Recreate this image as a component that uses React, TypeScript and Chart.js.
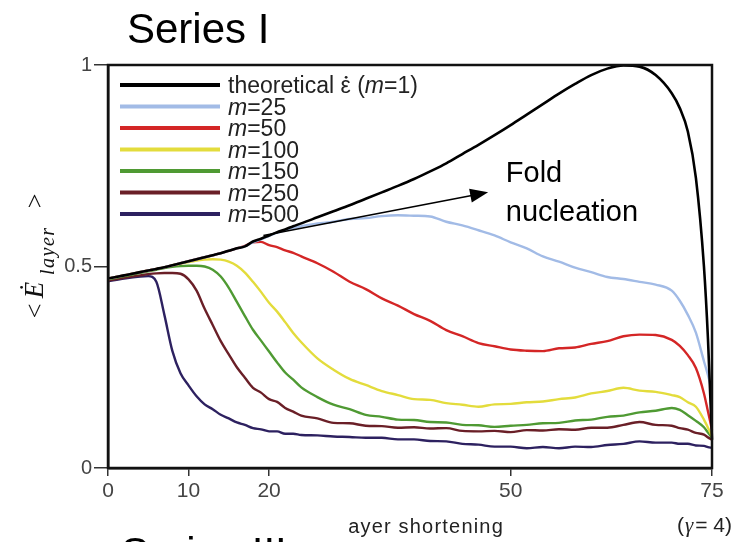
import React, { useEffect, useRef } from "react";
import { Chart, registerables } from "chart.js";

Chart.register(...registerables);

// Layer shortening (%) sample positions shared by all series
const X_VALUES = [0, 2, 4, 5, 6, 7, 8, 9, 10, 11, 12, 13, 14, 15, 16, 17, 18, 19, 20, 21, 22, 23, 24, 26, 28, 30, 32, 34, 36, 38, 40, 42, 44, 46, 48, 50, 52, 54, 56, 58, 60, 62, 64, 66, 68, 70, 71, 72, 73, 74, 74.5, 75];

const THEORETICAL = [0.470, 0.478, 0.486, 0.490, 0.494, 0.498, 0.503, 0.508, 0.513, 0.518, 0.523, 0.528, 0.533, 0.539, 0.545, 0.550, 0.562, 0.569, 0.577, 0.585, 0.592, 0.600, 0.607, 0.622, 0.637, 0.652, 0.668, 0.684, 0.700, 0.717, 0.736, 0.756, 0.779, 0.802, 0.826, 0.851, 0.877, 0.903, 0.929, 0.953, 0.975, 0.991, 0.999, 0.996, 0.975, 0.930, 0.893, 0.835, 0.720, 0.500, 0.320, 0.070];
const M25 = [0.470, 0.478, 0.486, 0.490, 0.494, 0.498, 0.503, 0.508, 0.513, 0.518, 0.523, 0.528, 0.533, 0.539, 0.545, 0.550, 0.560, 0.567, 0.576, 0.584, 0.590, 0.596, 0.600, 0.607, 0.611, 0.618, 0.620, 0.625, 0.627, 0.626, 0.624, 0.611, 0.602, 0.590, 0.577, 0.560, 0.545, 0.525, 0.512, 0.497, 0.486, 0.474, 0.469, 0.462, 0.455, 0.440, 0.415, 0.380, 0.336, 0.265, 0.230, 0.190];
const M50 = [0.470, 0.478, 0.486, 0.490, 0.494, 0.498, 0.503, 0.508, 0.513, 0.518, 0.523, 0.528, 0.533, 0.539, 0.545, 0.551, 0.560, 0.561, 0.553, 0.548, 0.540, 0.534, 0.525, 0.508, 0.487, 0.462, 0.444, 0.421, 0.403, 0.382, 0.365, 0.342, 0.327, 0.310, 0.302, 0.294, 0.291, 0.290, 0.297, 0.299, 0.308, 0.315, 0.327, 0.331, 0.330, 0.318, 0.303, 0.280, 0.248, 0.185, 0.140, 0.095];
const M100 = [0.470, 0.478, 0.486, 0.490, 0.494, 0.498, 0.503, 0.507, 0.511, 0.515, 0.517, 0.518, 0.517, 0.512, 0.502, 0.485, 0.462, 0.437, 0.410, 0.388, 0.362, 0.335, 0.312, 0.272, 0.244, 0.221, 0.206, 0.191, 0.181, 0.171, 0.169, 0.161, 0.157, 0.152, 0.158, 0.159, 0.163, 0.165, 0.171, 0.175, 0.185, 0.191, 0.199, 0.192, 0.189, 0.181, 0.176, 0.163, 0.152, 0.120, 0.100, 0.078];
const M150 = [0.468, 0.476, 0.484, 0.488, 0.492, 0.496, 0.499, 0.501, 0.502, 0.502, 0.500, 0.492, 0.475, 0.447, 0.412, 0.377, 0.343, 0.316, 0.289, 0.262, 0.237, 0.219, 0.200, 0.176, 0.157, 0.146, 0.132, 0.127, 0.120, 0.119, 0.114, 0.113, 0.107, 0.106, 0.102, 0.105, 0.107, 0.111, 0.112, 0.118, 0.120, 0.127, 0.130, 0.138, 0.142, 0.149, 0.144, 0.131, 0.117, 0.101, 0.088, 0.075];
const M250 = [0.465, 0.472, 0.478, 0.481, 0.483, 0.484, 0.484, 0.482, 0.468, 0.440, 0.395, 0.355, 0.315, 0.282, 0.250, 0.224, 0.199, 0.187, 0.171, 0.164, 0.149, 0.140, 0.130, 0.123, 0.112, 0.111, 0.105, 0.104, 0.100, 0.101, 0.098, 0.099, 0.092, 0.091, 0.092, 0.089, 0.094, 0.093, 0.096, 0.095, 0.100, 0.100, 0.107, 0.114, 0.107, 0.105, 0.099, 0.095, 0.087, 0.083, 0.076, 0.070];
const M500 = [0.463, 0.470, 0.475, 0.476, 0.462, 0.380, 0.290, 0.235, 0.205, 0.178, 0.158, 0.146, 0.132, 0.123, 0.113, 0.107, 0.099, 0.096, 0.091, 0.091, 0.085, 0.085, 0.082, 0.081, 0.078, 0.077, 0.075, 0.075, 0.071, 0.071, 0.067, 0.066, 0.060, 0.058, 0.053, 0.053, 0.049, 0.052, 0.049, 0.053, 0.052, 0.057, 0.060, 0.066, 0.063, 0.063, 0.060, 0.060, 0.056, 0.055, 0.052, 0.050];

const SERIES = [THEORETICAL, M25, M50, M100, M150, M250, M500];
const LEGEND_LABELS = ["theoretical \u03b5\u0307 (m=1)", "m=25", "m=50", "m=100", "m=150", "m=250", "m=500"];
const COLORS = ["#000000", "#a2bbe6", "#d42626", "#e3dc3c", "#4f9a33", "#6a1f27", "#2d2160"];
const WIDTHS = [2.6, 2.4, 2.4, 2.4, 2.4, 2.4, 2.4];

const X_TICKS = [0, 10, 20, 50, 75];
const Y_TICKS = [0, 0.5, 1];

const TITLE = "Series I";
const SUBTITLE = "Series III";
const X_TITLE = "Layer shortening";
const ANNOT_LINES = ["Fold", "nucleation"];
const ARROW_FROM = { x: 19.3, y: 0.577 };
const ARROW_TO = { x: 47.2, y: 0.684 };
const ANNOT_POS = { x: 49.4, y: 0.709 };

const SANS = "'Liberation Sans', Arial, sans-serif";
const SERIF = "'Liberation Serif', 'Times New Roman', serif";

function drawMixed(ctx: CanvasRenderingContext2D, text: string, x: number, y: number, size: number) {
  const parts = text.split(/(m(?==)|\u03b5\u0307)/);
  let cx = x;
  for (const p of parts) {
    if (!p) continue;
    if (p === "\u03b5\u0307") {
      ctx.font = `${size}px ${SANS}`;
      const w = ctx.measureText("\u03b5").width;
      ctx.fillText("\u03b5", cx, y);
      ctx.beginPath();
      ctx.arc(cx + w / 2 + 0.5, y - size * 0.68, 1.4, 0, Math.PI * 2);
      ctx.fill();
      cx += w;
      continue;
    }
    ctx.font = p === "m" ? `italic ${size}px ${SANS}` : `${size}px ${SANS}`;
    ctx.fillText(p, cx, y);
    cx += ctx.measureText(p).width;
  }
}

const decorPlugin = {
  id: "decor",
  afterDraw(chart: any) {
    const ctx: CanvasRenderingContext2D = chart.ctx;
    const a = chart.chartArea;
    const xs = chart.scales.x;
    const ys = chart.scales.y;
    ctx.save();
    // frame
    ctx.strokeStyle = "#111";
    ctx.lineWidth = 2.5;
    ctx.strokeRect(a.left, a.top, a.right - a.left, a.bottom - a.top);

    // legend
    ctx.textAlign = "left";
    ctx.textBaseline = "alphabetic";
    LEGEND_LABELS.forEach((lab, i) => {
      const cy = a.top + 20 + i * 21.5;
      ctx.strokeStyle = COLORS[i];
      ctx.lineWidth = 4;
      ctx.beginPath();
      ctx.moveTo(a.left + 12, cy);
      ctx.lineTo(a.left + 112, cy);
      ctx.stroke();
      ctx.fillStyle = "#222";
      drawMixed(ctx, lab, a.left + 120, cy + 8, 23);
    });

    // title
    ctx.fillStyle = "#000";
    ctx.font = `42px ${SANS}`;
    ctx.fillText(TITLE, 127, 43);

    // arrow annotation
    const x1 = xs.getPixelForValue(ARROW_FROM.x), y1 = ys.getPixelForValue(ARROW_FROM.y);
    const x2 = xs.getPixelForValue(ARROW_TO.x), y2 = ys.getPixelForValue(ARROW_TO.y);
    const ang = Math.atan2(y2 - y1, x2 - x1);
    ctx.strokeStyle = "#000";
    ctx.lineWidth = 1.6;
    ctx.beginPath();
    ctx.moveTo(x1, y1);
    ctx.lineTo(x2 - 14 * Math.cos(ang), y2 - 14 * Math.sin(ang));
    ctx.stroke();
    ctx.fillStyle = "#000";
    ctx.beginPath();
    ctx.moveTo(x2, y2);
    ctx.lineTo(x2 - 18 * Math.cos(ang) + 7 * Math.sin(ang), y2 - 18 * Math.sin(ang) - 7 * Math.cos(ang));
    ctx.lineTo(x2 - 18 * Math.cos(ang) - 7 * Math.sin(ang), y2 - 18 * Math.sin(ang) + 7 * Math.cos(ang));
    ctx.closePath();
    ctx.fill();
    const tx = xs.getPixelForValue(ANNOT_POS.x), ty = ys.getPixelForValue(ANNOT_POS.y);
    ctx.font = `29px ${SANS}`;
    ctx.fillText(ANNOT_LINES[0], tx, ty);
    ctx.fillText(ANNOT_LINES[1], tx, ty + 39);

    // y axis title  < Ė_layer >
    ctx.save();
    ctx.translate(43, 258);
    ctx.rotate(-Math.PI / 2);
    ctx.fillStyle = "#111";
    ctx.textAlign = "center";
    ctx.font = `26px ${SERIF}`;
    ctx.fillText("<", -53, 0);
    ctx.font = `italic 27px ${SERIF}`;
    ctx.fillText("\u0116", -32, 0);
    ctx.textAlign = "left";
    ctx.font = `italic 20px ${SERIF}`;
    (ctx as any).letterSpacing = "1.5px";
    ctx.fillText("layer", -17, 11);
    (ctx as any).letterSpacing = "0px";
    ctx.textAlign = "center";
    ctx.font = `26px ${SERIF}`;
    ctx.fillText(">", 57, 0);
    ctx.restore();

    // x axis title (partly covered) and lower text box
    ctx.textAlign = "right";
    ctx.fillStyle = "#222";
    ctx.font = `20px ${SANS}`;
    (ctx as any).letterSpacing = "1.2px";
    ctx.fillText(X_TITLE, 504, 533);
    (ctx as any).letterSpacing = "0px";
    ctx.fillStyle = "#fff";
    ctx.fillRect(200, 512, 149, 30);
    ctx.textAlign = "left";
    ctx.fillStyle = "#000";
    ctx.font = `42px ${SANS}`;
    ctx.fillText(SUBTITLE, 121, 567);

    // (γ = 4)
    ctx.fillStyle = "#222";
    const gy = 532;
    let gx = 677;
    ctx.font = `21px ${SANS}`;
    ctx.fillText("(", gx, gy);
    gx += ctx.measureText("(").width + 1;
    ctx.font = `italic 21px ${SERIF}`;
    ctx.fillText("\u03b3", gx, gy);
    gx += ctx.measureText("\u03b3").width + 2;
    ctx.font = `21px ${SANS}`;
    ctx.fillText("= 4)", gx, gy);
    ctx.restore();
  },
};

export default function App() {
  const ref = useRef<HTMLCanvasElement | null>(null);
  useEffect(() => {
    if (!ref.current) return;
    const datasets = SERIES.map((s, i) => ({
      label: LEGEND_LABELS[i],
      data: X_VALUES.map((x, j) => ({ x, y: s[j] })),
      borderColor: COLORS[i],
      backgroundColor: COLORS[i],
      borderWidth: WIDTHS[i],
      pointRadius: 0,
      cubicInterpolationMode: "monotone" as const,
      clip: 6,
    }));
    const chart = new Chart(ref.current, {
      type: "line",
      data: { datasets },
      options: {
        animation: false,
        responsive: false,
        layout: { padding: { top: 65, right: 33, left: 0, bottom: 0 } },
        plugins: { legend: { display: false }, tooltip: { enabled: false }, title: { display: false } },
        scales: {
          x: {
            type: "linear",
            min: 0,
            max: 75,
            afterBuildTicks: (axis: any) => {
              axis.ticks = X_TICKS.map((v) => ({ value: v }));
            },
            afterFit: (axis: any) => {
              axis.height = 74;
            },
            ticks: {
              color: "#444",
              font: { family: SANS, size: 21 },
              padding: 3,
              maxRotation: 0,
              autoSkip: false,
              callback: (v: any) => String(v),
            },
            grid: { drawOnChartArea: false, drawTicks: true, tickLength: 8, color: "#333", lineWidth: 1.5 },
            border: { display: true, color: "#111", width: 2.5 },
          },
          y: {
            type: "linear",
            min: 0,
            max: 1,
            afterBuildTicks: (axis: any) => {
              axis.ticks = Y_TICKS.map((v) => ({ value: v }));
            },
            afterFit: (axis: any) => {
              axis.width = 108;
            },
            ticks: {
              color: "#444",
              font: { family: SANS, size: 20 },
              padding: 2,
              autoSkip: false,
              callback: (v: any) => String(v),
            },
            grid: { drawOnChartArea: false, drawTicks: true, tickLength: 14, color: "#333", lineWidth: 1.5 },
            border: { display: true, color: "#111", width: 2.5 },
          },
        },
      },
      plugins: [decorPlugin],
    });
    return () => chart.destroy();
  }, []);
  return (
    <div style={{ position: "fixed", left: 0, top: 0, width: 745, height: 542, background: "#fff" }}>
      <canvas ref={ref} width={745} height={542} style={{ display: "block" }} />
    </div>
  );
}
